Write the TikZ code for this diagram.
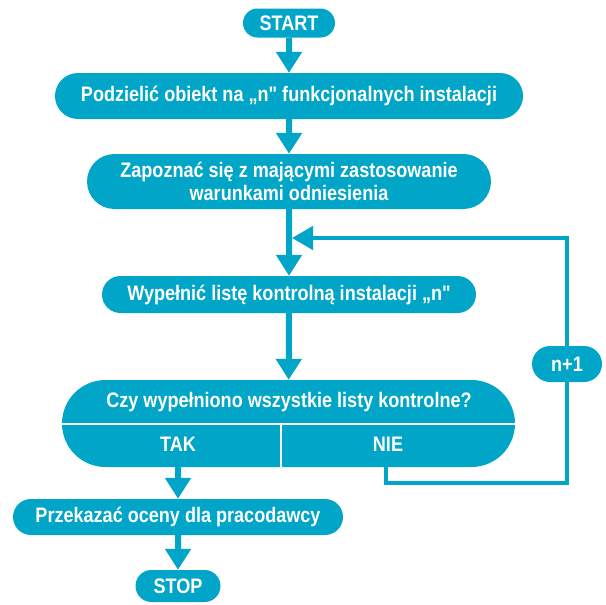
\documentclass[tikz,border=0pt]{standalone}
\usepackage{fontspec}
\newfontfamily\cf[FakeStretch=0.86]{Liberation Sans}
\usetikzlibrary{arrows.meta,shapes.misc}
\definecolor{fc}{RGB}{0,165,199}
\begin{document}
\begin{tikzpicture}[x=1pt,y=-1pt,
  pill/.style={rounded rectangle, fill=fc, text=white, inner sep=0pt, align=center,
    font=\cf\fontsize{21}{22.5}\selectfont\bfseries},
  lbl/.style={text=white, inner sep=0pt, font=\cf\fontsize{21}{22.5}\selectfont\bfseries},
  arr/.style={draw=fc, line width=6pt, -{Triangle[length=21pt,width=25pt]}},
  loopline/.style={draw=fc, line width=4.5pt},
  looparr/.style={draw=fc, line width=4.5pt, -{Triangle[length=21pt,width=23pt]}},
  divline/.style={draw=white, line width=2pt}]
\useasboundingbox (0,0) rectangle (606,605);
\node[pill, minimum width=92pt, minimum height=29pt] (start) at (289,23) {START};
\node[pill, minimum width=468pt, minimum height=46pt] (b1) at (289,96) {Podzielić obiekt na „n" funkcjonalnych instalacji};
\node[pill, minimum width=404pt, minimum height=55pt] (b2) at (289,181.5) {Zapoznać się z mającymi zastosowanie\\warunkami odniesienia};
\node[pill, minimum width=374pt, minimum height=37pt] (b3) at (289,294.5) {Wypełnić listę kontrolną instalacji „n"};
\node[pill, minimum width=453pt, minimum height=87pt] (dec) at (288.5,423.5) {};
\node[lbl] (q) at (289,402) {Czy wypełniono wszystkie listy kontrolne?};
\node[lbl] (tak) at (178,444) {TAK};
\node[lbl] (nie) at (388,444) {NIE};
\coordinate (dt) at (281,423.5);
\coordinate (db) at (281,467);
\draw[divline] (dec.west) -- (dec.east);
\draw[divline] (dt) -- (db);
\node[pill, minimum width=330pt, minimum height=36pt] (b5) at (178,517) {Przekazać oceny dla pracodawcy};
\node[pill, minimum width=85pt, minimum height=32pt] (stop) at (178,586) {STOP};
\node[pill, minimum width=70pt, minimum height=36pt] (np1) at (567,364) {n+1};
\coordinate (c1) at (386,483);
\coordinate (c2) at (567,483);
\coordinate (c3) at (567,238);
\coordinate (c4) at (292,238);
\draw[arr] (start) -- (b1);
\draw[arr] (b1) -- (b2);
\draw[arr] (b2) -- (b3);
\draw[arr] (b3) -- (dec);
\draw[arr] (tak |- dec.south) -- (b5);
\draw[arr] (b5) -- (stop);
\draw[loopline] (c1 |- dec.south) -- (c1) -- (c2) -- (np1);
\draw[looparr] (np1) -- (c3) -- (c4);
\end{tikzpicture}
\end{document}
